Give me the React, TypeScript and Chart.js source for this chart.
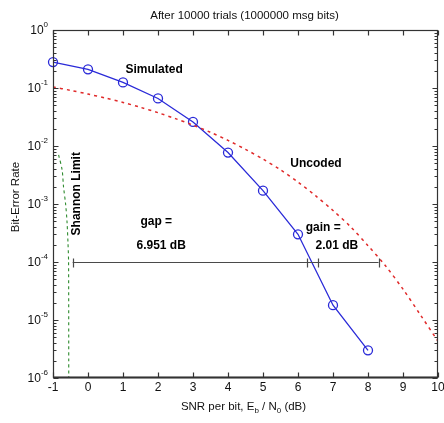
import React, { useEffect, useRef } from "react";
import { Chart, registerables } from "chart.js";
Chart.register(...registerables);

const TITLE = "After 10000 trials (1000000 msg bits)";
const X_TICKS = [-1, 0, 1, 2, 3, 4, 5, 6, 7, 8, 9, 10];
const Y_DECADES = [0, -1, -2, -3, -4, -5, -6];

const SIM_SNR = [-1, 0, 1, 2, 3, 4, 5, 6, 7, 8];
const SIM_BER = [0.28, 0.21, 0.125, 0.066, 0.026, 0.0077, 0.0017, 3.0e-4, 1.8e-5, 3.0e-6];

const UNC_SNR = [-1, -0.5, 0, 0.5, 1, 1.5, 2, 2.5, 3, 3.5, 4, 4.5, 5, 5.5, 6, 6.5, 7, 7.5, 8, 8.5, 9, 9.5, 10];
const UNC_BER = [0.104, 0.0912, 0.0786, 0.0671, 0.0563, 0.0464, 0.0375, 0.0296, 0.0229, 0.0172, 0.0125, 0.00876, 0.00595, 0.00388, 0.00239, 0.00139, 7.73e-4, 4.06e-4, 1.91e-4, 8.6e-5, 3.4e-5, 1.22e-5, 4.3e-6];

const SH_SNR = [-0.84, -0.74, -0.70, -0.64, -0.60, -0.57, -0.555, -0.55];
const SH_BER = [7e-3, 3.9e-3, 2e-3, 1e-3, 5e-4, 2e-4, 1e-4, 1e-6];

const GAP_Y = 1e-4;
const GAP_MARKS = [-0.44, 6.27, 6.57, 8.3];
const GAP_DB = "6.951";
const GAIN_DB = "2.01";

const FONT = "'Liberation Sans', Arial, sans-serif";

const overlay = {
  id: "matlabOverlay",
  afterDatasetsDraw(chart: any) {
    const ctx = chart.ctx as CanvasRenderingContext2D;
    const { left, right, top, bottom } = chart.chartArea;
    const xs = chart.scales.x;
    const ys = chart.scales.y;
    ctx.save();

    // gap / gain line
    const gy = Math.round(ys.getPixelForValue(GAP_Y)) + 0.5;
    ctx.strokeStyle = "#4a4a4a";
    ctx.lineWidth = 1.2;
    ctx.beginPath();
    const gx0 = xs.getPixelForValue(GAP_MARKS[0]);
    const gx1 = xs.getPixelForValue(GAP_MARKS[GAP_MARKS.length - 1]);
    ctx.moveTo(gx0, gy);
    ctx.lineTo(gx1, gy);
    for (const m of GAP_MARKS) {
      const px = Math.round(xs.getPixelForValue(m)) + 0.5;
      ctx.moveTo(px, gy - 4);
      ctx.lineTo(px, gy + 5);
    }
    ctx.stroke();

    // box
    ctx.strokeStyle = "#333";
    ctx.lineWidth = 1.2;
    const L = Math.round(left) + 0.5, R = Math.round(right) - 0.5;
    const T = Math.round(top) + 0.5, B = Math.round(bottom) - 0.5;
    ctx.strokeRect(L, T, R - L, B - T);
    ctx.lineWidth = 2;
    ctx.beginPath();
    ctx.moveTo(L, B); ctx.lineTo(R, B);
    ctx.stroke();
    ctx.lineWidth = 1.2;

    // x ticks
    ctx.beginPath();
    for (const t of X_TICKS) {
      const px = Math.round(xs.getPixelForValue(t)) + 0.5;
      ctx.moveTo(px, B); ctx.lineTo(px, B - 5);
      ctx.moveTo(px, T); ctx.lineTo(px, T + 5);
    }
    // y ticks
    for (const d of Y_DECADES) {
      const py = Math.round(ys.getPixelForValue(Math.pow(10, d))) + 0.5;
      ctx.moveTo(L, py); ctx.lineTo(L + 5, py);
      ctx.moveTo(R, py); ctx.lineTo(R - 5, py);
      if (d > -6) {
        for (let k = 2; k <= 9; k++) {
          const mv = k * Math.pow(10, d - 1);
          const my = Math.round(ys.getPixelForValue(mv)) + 0.5;
          ctx.moveTo(L, my); ctx.lineTo(L + 3, my);
          ctx.moveTo(R, my); ctx.lineTo(R - 3, my);
        }
      }
    }
    ctx.stroke();

    // tick labels
    ctx.fillStyle = "#111";
    ctx.font = `12px ${FONT}`;
    ctx.textAlign = "center";
    ctx.textBaseline = "middle";
    for (const t of X_TICKS) {
      ctx.fillText(String(t), xs.getPixelForValue(t), bottom + 10);
    }
    for (const d of Y_DECADES) {
      const py = ys.getPixelForValue(Math.pow(10, d));
      const exp = d === 0 ? "0" : "-" + Math.abs(d);
      ctx.font = `8px ${FONT}`;
      const ew = ctx.measureText(exp).width;
      const ex = left - 5 - ew;
      ctx.textAlign = "left";
      ctx.fillText(exp, ex, py - 5);
      ctx.font = `12px ${FONT}`;
      ctx.textAlign = "right";
      ctx.fillText("10", ex, py + 1);
    }

    // title
    const cx = (left + right) / 2;
    ctx.font = `11.5px ${FONT}`;
    ctx.textAlign = "center";
    ctx.fillText(TITLE, cx - 1, 16);

    // y title
    ctx.save();
    ctx.translate(16, 197);
    ctx.rotate(-Math.PI / 2);
    ctx.font = `11.5px ${FONT}`;
    ctx.fillText("Bit-Error Rate", 0, 0);
    ctx.restore();

    // x title with subscripts
    const parts: [string, boolean][] = [["SNR per bit, E", false], ["b", true], [" / N", false], ["0", true], [" (dB)", false]];
    let total = 0;
    for (const [s, sub] of parts) {
      ctx.font = sub ? `8px ${FONT}` : `11.5px ${FONT}`;
      total += ctx.measureText(s).width;
    }
    let x = cx - 2 - total / 2;
    ctx.textAlign = "left";
    for (const [s, sub] of parts) {
      ctx.font = sub ? `8px ${FONT}` : `11.5px ${FONT}`;
      ctx.fillText(s, x, sub ? 411 : 407);
      x += ctx.measureText(s).width;
    }

    // annotations
    ctx.fillStyle = "#000";
    ctx.font = `bold 12px ${FONT}`;
    ctx.textAlign = "left";
    ctx.fillText("Simulated", xs.getPixelForValue(1.07), ys.getPixelForValue(0.204));
    ctx.fillText("Uncoded", xs.getPixelForValue(5.78), ys.getPixelForValue(4.9e-3));
    ctx.textAlign = "center";
    ctx.fillText("gap =", xs.getPixelForValue(1.95), ys.getPixelForValue(4.95e-4));
    ctx.fillText(GAP_DB + " dB", xs.getPixelForValue(2.09), ys.getPixelForValue(1.9e-4));
    ctx.fillText("gain =", xs.getPixelForValue(6.72), ys.getPixelForValue(3.96e-4));
    ctx.fillText(GAIN_DB + " dB", xs.getPixelForValue(7.11), ys.getPixelForValue(1.9e-4));
    ctx.save();
    ctx.translate(xs.getPixelForValue(-0.33), ys.getPixelForValue(1.5e-3));
    ctx.rotate(-Math.PI / 2);
    ctx.fillText("Shannon Limit", 0, 0);
    ctx.restore();

    ctx.restore();
  },
};

export default function App() {
  const ref = useRef<HTMLCanvasElement | null>(null);
  useEffect(() => {
    document.body.style.margin = "0";
    const canvas = ref.current!;
    const chart = new Chart(canvas, {
      type: "scatter",
      data: {
        datasets: [
          {
            label: "Shannon",
            data: SH_SNR.map((v, i) => ({ x: v, y: SH_BER[i] })),
            showLine: true,
            borderColor: "#2e8b2e",
            borderWidth: 1.1,
            borderDash: [3, 3],
            pointRadius: 0,
            tension: 0.3,
          },
          {
            label: "Uncoded",
            data: UNC_SNR.map((v, i) => ({ x: v, y: UNC_BER[i] })),
            showLine: true,
            borderColor: "#e02a2a",
            borderWidth: 1.5,
            borderDash: [3, 4],
            pointRadius: 0,
            tension: 0.3,
          },
          {
            label: "Simulated",
            data: SIM_SNR.map((v, i) => ({ x: v, y: SIM_BER[i] })),
            showLine: true,
            clip: 8,
            borderColor: "#2a2ad8",
            borderWidth: 1.3,
            pointRadius: 4.5,
            pointBorderColor: "#2a2ad8",
            pointBackgroundColor: "rgba(0,0,0,0)",
            pointBorderWidth: 1.3,
            tension: 0,
          },
        ],
      },
      options: {
        responsive: false,
        animation: false,
        layout: { padding: { left: 53, right: 6, top: 30, bottom: 45 } },
        plugins: { legend: { display: false }, tooltip: { enabled: false }, title: { display: false } },
        scales: {
          x: { type: "linear", min: -1, max: 10, display: false },
          y: { type: "logarithmic", min: 1e-6, max: 1, display: false },
        },
      },
      plugins: [overlay],
    });
    return () => chart.destroy();
  }, []);
  return (
    <div style={{ width: 444, height: 423, background: "#fff" }}>
      <canvas ref={ref} width={444} height={423} style={{ display: "block" }} />
    </div>
  );
}
